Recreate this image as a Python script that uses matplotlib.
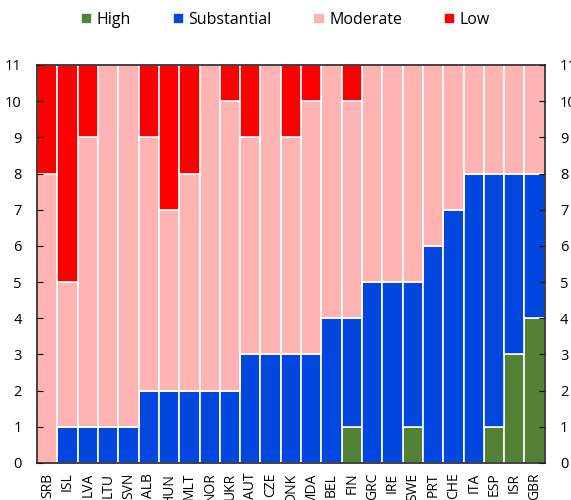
import numpy as np
import matplotlib.pyplot as plt

plt.rcParams['font.family'] = ['Open Sans', 'DejaVu Sans']

countries = ['SRB', 'ISL', 'LVA', 'LTU', 'SVN', 'ALB', 'HUN', 'MLT', 'NOR', 'UKR',
             'AUT', 'CZE', 'DNK', 'MDA', 'BEL', 'FIN', 'GRC', 'IRE', 'SWE', 'PRT',
             'CHE', 'ITA', 'ESP', 'ISR', 'GBR']
high = [0, 0, 0, 0, 0, 0, 0, 0, 0, 0, 0, 0, 0, 0, 0, 1, 0, 0, 1, 0, 0, 0, 1, 3, 4]
substantial = [0, 1, 1, 1, 1, 2, 2, 2, 2, 2, 3, 3, 3, 3, 4, 3, 5, 5, 4, 6, 7, 8, 7, 5, 4]
moderate = [8, 4, 8, 10, 10, 7, 5, 6, 9, 8, 6, 8, 6, 7, 7, 6, 6, 6, 6, 5, 4, 3, 3, 3, 3]
low = [3, 6, 2, 0, 0, 2, 4, 3, 0, 1, 2, 0, 2, 1, 0, 1, 0, 0, 0, 0, 0, 0, 0, 0, 0]

series = [('High', high, '#538135'),
          ('Substantial', substantial, '#0047E0'),
          ('Moderate', moderate, '#FFB3B3'),
          ('Low', low, '#FF0000')]

fig = plt.figure(figsize=(5.71, 5.0), dpi=100)
ax = fig.add_axes([0.065, 0.074, 0.889, 0.796])

x = np.arange(len(countries))
bottom = np.zeros(len(countries))
for name, vals, color in series:
    vals = np.array(vals, dtype=float)
    ax.bar(x, vals, bottom=bottom, width=1.0, color=color, edgecolor='white',
           linewidth=1.2, label=name)
    bottom += vals

ax.set_xlim(-0.5, len(countries) - 0.5)
ax.set_ylim(0, 11)
ax.set_yticks(range(0, 12))
ax.set_xticks(x)
ax.set_xticklabels(countries, rotation=90, fontsize=10)
ax.tick_params(axis='y', direction='in', labelsize=10.5, right=True, labelright=True,
               length=4, pad=11)
ax.tick_params(axis='x', length=0, pad=7)
for s in ax.spines.values():
    s.set_linewidth(1.2)
    s.set_color('#222222')

fig.legend(loc='upper center', bbox_to_anchor=(0.5, 1.005), ncol=4, frameon=False,
           fontsize=11.5, handlelength=0.7, handleheight=0.7, handletextpad=0.3,
           columnspacing=2.6)

fig.savefig('out.png', dpi=100)
